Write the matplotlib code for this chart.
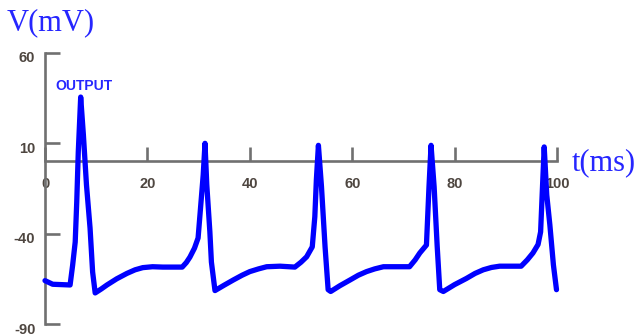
import matplotlib
matplotlib.use("Agg")
import matplotlib.pyplot as plt
from matplotlib.transforms import ScaledTranslation

# ---- data (time in ms, membrane voltage in mV) ----
t_ms = [0.0, 1.5, 4.9, 5.4, 5.9, 6.2, 6.5, 6.97, 7.5, 8.1, 8.8, 9.3, 9.8,
        11.0, 12.1, 14.0, 16.0, 17.6, 19.1, 21.0, 23.0, 26.8, 27.6, 28.3,
        29.2, 29.9, 30.3, 30.9, 31.25, 31.6, 32.2, 32.5, 33.2, 35.0, 36.8,
        38.5, 40.0, 41.7, 43.3, 45.9, 48.8, 50.0, 51.1, 52.2, 52.7, 53.0,
        53.4, 54.0, 54.7, 55.3, 55.8, 57.6, 59.6, 61.2, 62.8, 64.4, 66.1,
        70.6, 71.2, 72.3, 73.2, 74.5, 75.0, 75.4, 76.0, 76.6, 77.1, 77.8,
        80.0, 82.3, 84.0, 85.6, 87.2, 88.8, 93.0, 94.2, 95.3, 96.3, 96.8,
        97.1, 97.5, 98.0, 98.6, 99.3, 99.9]
v_mv = [-66.0, -68.0, -68.4, -57.4, -44.6, -22.5, 5.2, 35.6, 14.6, -13.0,
        -36.9, -61.2, -72.8, -70.6, -68.4, -65.0, -62.0, -60.0, -58.8,
        -58.3, -58.5, -58.5, -56.0, -53.0, -48.0, -42.4, -28.5, -7.5, 10.0,
        -13.0, -39.0, -55.7, -71.5, -68.5, -65.6, -63.0, -61.0, -59.5,
        -58.3, -58.0, -58.5, -55.8, -52.8, -47.3, -30.6, -10.3, 8.9, -14.0,
        -47.3, -71.0, -72.0, -68.8, -65.6, -63.0, -61.0, -59.5, -58.3,
        -58.3, -58.3, -54.5, -50.7, -46.3, -14.0, 8.9, -14.0, -47.0, -71.0,
        -72.0, -68.2, -64.8, -62.0, -60.0, -58.7, -58.0, -58.0, -54.5,
        -50.7, -46.0, -39.0, -18.6, 8.0, -18.6, -35.0, -57.3, -71.0]

x_ticks = [0, 20, 40, 60, 80, 100]
x_tick_labels = ["0", "20", "40", "60", "80", "100"]
y_ticks = [60, 10, -40, -90]
y_tick_labels = ["60", "10", "-40", "-90"]

BLUE = "#0000ff"
TEXT_BLUE = "#2626ff"
AXIS_GRAY = "#707070"
LABEL_COLOR = "#4e4640"

fig = plt.figure(figsize=(6.35, 3.36), dpi=100)
fig.patch.set_facecolor("white")

W, H = 635.0, 336.0
ax = fig.add_axes([45 / W, 1 - 324 / H, 512 / W, 271 / H])
ax.set_xlim(0, 100)
ax.set_ylim(-90, 60)
ax.patch.set_visible(False)

ax.plot(t_ms, v_mv, color=BLUE, lw=3.8, solid_joinstyle="round",
        solid_capstyle="round", zorder=3, clip_on=False)

for s in ["top", "right"]:
    ax.spines[s].set_visible(False)
ax.spines["bottom"].set_position(("data", 0))
for s in ["left", "bottom"]:
    ax.spines[s].set_color(AXIS_GRAY)
    ax.spines[s].set_linewidth(1.9)
    ax.spines[s].set_zorder(2)

ax.set_xticks(x_ticks)
ax.set_xticklabels(x_tick_labels)
ax.set_yticks(y_ticks)
ax.set_yticklabels(y_tick_labels)

ax.tick_params(axis="x", direction="in", length=10, width=1.9,
               color=AXIS_GRAY, pad=11.5, labelsize=10.5,
               labelcolor=LABEL_COLOR)
ax.tick_params(axis="y", direction="in", length=11, width=1.9,
               color=AXIS_GRAY, pad=7, labelsize=10.5,
               labelcolor=LABEL_COLOR)
for lab in ax.get_xticklabels() + ax.get_yticklabels():
    lab.set_fontfamily("Liberation Sans")
    lab.set_fontweight("bold")
shift = ScaledTranslation(0, -4 / 100, fig.dpi_scale_trans)
for lab in ax.get_yticklabels():
    lab.set_transform(lab.get_transform() + shift)

fig.text(7 / W, 1 - 23 / H, "V(mV)", fontsize=22, family="Liberation Serif",
         color=TEXT_BLUE, ha="left", va="center")
fig.text(572 / W, 1 - 163 / H, "t(ms)", fontsize=22,
         family="Liberation Serif", color=TEXT_BLUE, ha="left", va="center")
fig.text(55 / W, 1 - 86 / H, "OUTPUT", fontsize=10, family="Liberation Sans",
         fontweight="bold", color=TEXT_BLUE, ha="left", va="center")

fig.savefig("out.png", dpi=100, facecolor="white")
